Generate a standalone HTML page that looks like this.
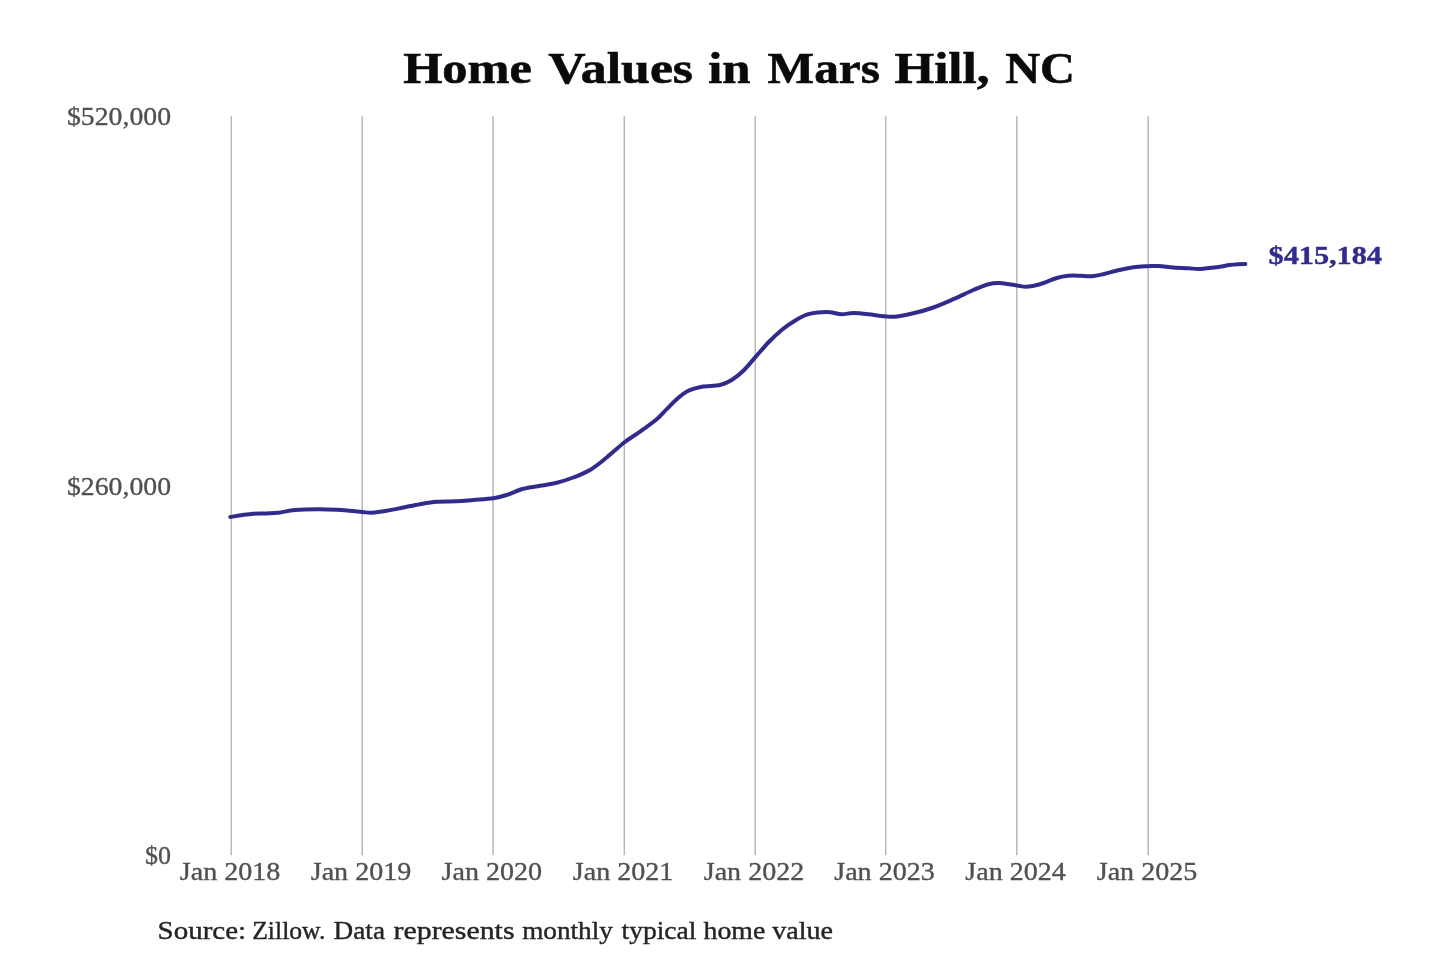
<!DOCTYPE html>
<html><head><meta charset="utf-8"><title>Home Values in Mars Hill, NC</title>
<style>
html,body{margin:0;padding:0;background:#fff;}
body{width:1440px;height:960px;overflow:hidden;font-family:"Liberation Serif",serif;}
svg{display:block;position:absolute;left:0;top:0;will-change:transform;}
text{font-family:"Liberation Serif",serif;}
.grid line{stroke:#b8b8b8;stroke-width:1.5;}
.tick text{font-size:26px;fill:#505050;stroke:#505050;stroke-width:0.35px;}
.title text{font-size:44px;font-weight:bold;fill:#0a0a0a;stroke:#0a0a0a;stroke-width:0.6px;}
</style></head><body>
<svg width="1440" height="960" viewBox="0 0 1440 960">
<rect width="1440" height="960" fill="#ffffff"/>
<g class="title">
<text x="403.25" y="83.00" textLength="128.50" lengthAdjust="spacingAndGlyphs">Home</text>
<text x="548.25" y="83.00" textLength="144.75" lengthAdjust="spacingAndGlyphs">Values</text>
<text x="708.25" y="83.00" textLength="42.25" lengthAdjust="spacingAndGlyphs">in</text>
<text x="767.50" y="83.00" textLength="112.50" lengthAdjust="spacingAndGlyphs">Mars</text>
<text x="894.50" y="83.00" textLength="95.00" lengthAdjust="spacingAndGlyphs">Hill,</text>
<text x="1005.25" y="83.00" textLength="69.75" lengthAdjust="spacingAndGlyphs">NC</text>
</g>
<g class="grid">
<line x1="231.30" y1="116.3" x2="231.30" y2="855.2"/>
<line x1="362.20" y1="116.3" x2="362.20" y2="855.2"/>
<line x1="493.05" y1="116.3" x2="493.05" y2="855.2"/>
<line x1="624.30" y1="116.3" x2="624.30" y2="855.2"/>
<line x1="755.20" y1="116.3" x2="755.20" y2="855.2"/>
<line x1="885.70" y1="116.3" x2="885.70" y2="855.2"/>
<line x1="1016.80" y1="116.3" x2="1016.80" y2="855.2"/>
<line x1="1148.20" y1="116.3" x2="1148.20" y2="855.2"/>
</g>
<g class="tick">
<text x="67.00" y="124.50" textLength="104.00" lengthAdjust="spacingAndGlyphs">$520,000</text>
<text x="67.00" y="494.50" textLength="104.00" lengthAdjust="spacingAndGlyphs">$260,000</text>
<text x="145.00" y="864.00" textLength="26.00" lengthAdjust="spacingAndGlyphs">$0</text>
<text x="179.85" y="879.50" textLength="100.50" lengthAdjust="spacingAndGlyphs">Jan 2018</text>
<text x="310.75" y="879.50" textLength="100.50" lengthAdjust="spacingAndGlyphs">Jan 2019</text>
<text x="441.60" y="879.50" textLength="100.50" lengthAdjust="spacingAndGlyphs">Jan 2020</text>
<text x="572.85" y="879.50" textLength="100.50" lengthAdjust="spacingAndGlyphs">Jan 2021</text>
<text x="703.75" y="879.50" textLength="100.50" lengthAdjust="spacingAndGlyphs">Jan 2022</text>
<text x="834.25" y="879.50" textLength="100.50" lengthAdjust="spacingAndGlyphs">Jan 2023</text>
<text x="965.35" y="879.50" textLength="100.50" lengthAdjust="spacingAndGlyphs">Jan 2024</text>
<text x="1096.75" y="879.50" textLength="100.50" lengthAdjust="spacingAndGlyphs">Jan 2025</text>
</g>
<path d="M230.3,517.0 C232.1,516.7 237.2,515.8 241.0,515.2 C244.8,514.7 249.1,514.0 253.3,513.7 C257.5,513.4 261.8,513.6 266.0,513.4 C270.2,513.2 273.5,513.3 278.3,512.7 C283.1,512.1 288.6,510.6 295.0,510.0 C301.4,509.4 309.8,509.2 316.7,509.2 C323.6,509.1 331.1,509.4 336.7,509.7 C342.2,510.0 345.7,510.4 350.0,510.8 C354.3,511.2 358.9,511.7 362.5,512.0 C366.1,512.3 367.7,512.9 371.7,512.7 C375.7,512.5 381.4,511.7 386.7,510.8 C392.0,509.9 397.8,508.6 403.3,507.5 C408.9,506.4 414.4,505.2 420.0,504.2 C425.6,503.2 430.6,502.2 436.7,501.7 C442.8,501.2 450.6,501.6 456.7,501.3 C462.8,501.0 467.2,500.5 473.3,500.0 C479.4,499.5 487.7,499.1 493.3,498.3 C498.9,497.5 501.7,496.6 506.7,495.0 C511.7,493.4 517.8,490.3 523.3,488.8 C528.8,487.3 534.4,486.8 540.0,485.8 C545.6,484.8 551.2,484.2 556.7,482.8 C562.2,481.4 567.8,479.6 573.3,477.5 C578.8,475.4 584.4,473.3 590.0,470.0 C595.6,466.7 601.0,462.1 606.7,457.5 C612.4,452.9 618.7,446.8 624.2,442.5 C629.8,438.2 634.6,435.6 640.0,431.7 C645.4,427.8 652.2,422.9 656.7,419.2 C661.2,415.4 663.4,412.5 666.7,409.2 C670.0,405.9 673.1,402.3 676.7,399.2 C680.3,396.1 684.1,392.9 688.3,390.8 C692.5,388.7 696.4,387.7 701.7,386.7 C707.0,385.7 715.0,386.1 720.0,385.0 C725.0,383.9 727.8,382.4 731.7,380.0 C735.6,377.6 739.3,374.7 743.3,370.8 C747.3,366.9 751.6,361.4 755.8,356.7 C760.0,352.0 764.0,346.9 768.3,342.5 C772.6,338.1 777.5,333.5 781.7,330.0 C785.9,326.5 789.1,324.2 793.3,321.7 C797.5,319.1 802.5,316.2 806.7,314.7 C810.9,313.2 814.4,312.9 818.3,312.5 C822.2,312.1 826.1,311.9 830.0,312.2 C833.9,312.5 837.8,314.1 841.7,314.2 C845.6,314.3 848.9,313.0 853.3,313.0 C857.7,313.0 863.0,313.6 868.3,314.2 C873.6,314.8 880.5,315.9 885.0,316.3 C889.5,316.7 890.3,317.2 895.0,316.7 C899.7,316.2 906.9,314.8 913.3,313.3 C919.7,311.8 926.6,309.9 933.3,307.5 C940.0,305.1 946.6,302.1 953.3,299.2 C960.0,296.3 967.5,292.5 973.3,290.0 C979.1,287.5 983.8,285.4 988.3,284.2 C992.8,283.0 995.3,282.8 1000.0,283.0 C1004.7,283.2 1012.2,284.9 1016.7,285.5 C1021.2,286.1 1022.8,286.9 1026.7,286.7 C1030.6,286.5 1035.0,285.6 1040.0,284.2 C1045.0,282.8 1052.0,279.4 1056.7,278.0 C1061.4,276.6 1064.4,276.2 1068.3,275.8 C1072.2,275.4 1076.1,275.7 1080.0,275.8 C1083.9,275.9 1087.8,276.6 1091.7,276.3 C1095.6,276.0 1098.9,275.2 1103.3,274.2 C1107.7,273.2 1113.3,271.4 1118.3,270.2 C1123.3,269.0 1128.3,267.9 1133.3,267.2 C1138.3,266.5 1144.1,266.4 1148.3,266.2 C1152.5,266.0 1154.1,265.8 1158.3,266.0 C1162.5,266.2 1168.3,267.1 1173.3,267.5 C1178.3,267.9 1183.8,268.1 1188.3,268.3 C1192.8,268.5 1195.3,269.1 1200.0,268.9 C1204.7,268.7 1211.8,267.9 1216.7,267.3 C1221.6,266.7 1225.7,265.6 1229.2,265.1 C1232.7,264.6 1234.8,264.4 1237.5,264.2 C1240.2,264.0 1244.1,263.9 1245.4,263.9" fill="none" stroke="#312b8c" stroke-width="4.0" stroke-linecap="round" stroke-linejoin="round"/>
<text x="1268.50" y="263.80" textLength="113.50" lengthAdjust="spacingAndGlyphs" font-size="26" font-weight="bold" fill="#312b8c" stroke="#312b8c" stroke-width="0.4">$415,184</text>
<g font-size="26" fill="#242424" stroke="#242424" stroke-width="0.4">
<text x="157.60" y="939.30" textLength="88.50" lengthAdjust="spacingAndGlyphs">Source:</text>
<text x="252.20" y="939.30" textLength="73.20" lengthAdjust="spacingAndGlyphs">Zillow.</text>
<text x="333.60" y="939.30" textLength="51.40" lengthAdjust="spacingAndGlyphs">Data</text>
<text x="393.60" y="939.30" textLength="120.90" lengthAdjust="spacingAndGlyphs">represents</text>
<text x="522.20" y="939.30" textLength="90.70" lengthAdjust="spacingAndGlyphs">monthly</text>
<text x="621.50" y="939.30" textLength="75.00" lengthAdjust="spacingAndGlyphs">typical</text>
<text x="703.60" y="939.30" textLength="61.70" lengthAdjust="spacingAndGlyphs">home</text>
<text x="772.20" y="939.30" textLength="60.70" lengthAdjust="spacingAndGlyphs">value</text>
</g>
</svg>
</body></html>
